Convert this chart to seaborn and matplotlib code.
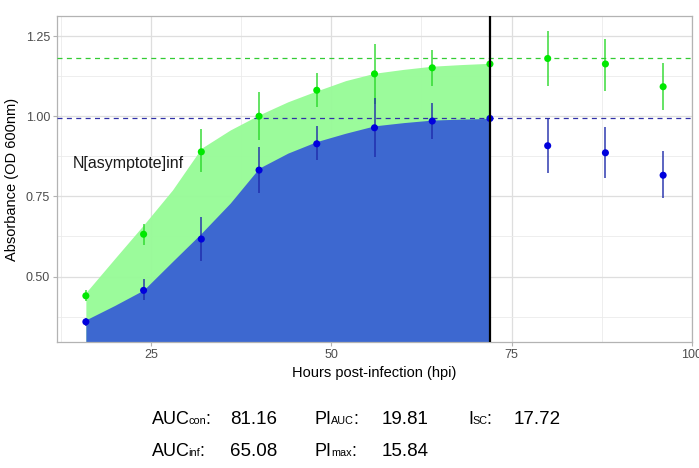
import numpy as np
import pandas as pd
import matplotlib
matplotlib.use("Agg")
import matplotlib.pyplot as plt
from matplotlib.ticker import FixedLocator
import seaborn as sns

# ---------------- data ----------------
hours = [16, 24, 32, 40, 48, 56, 64, 72, 80, 88, 96]

con_mean = [0.440, 0.632, 0.889, 1.000, 1.081, 1.132, 1.151, 1.163, 1.180, 1.163, 1.092]
con_lo   = [0.425, 0.599, 0.825, 0.926, 1.030, 1.039, 1.094, 1.163, 1.095, 1.080, 1.019]
con_hi   = [0.458, 0.664, 0.959, 1.075, 1.136, 1.225, 1.206, 1.163, 1.267, 1.241, 1.167]

inf_mean = [0.359, 0.457, 0.617, 0.832, 0.914, 0.964, 0.985, 0.993, 0.908, 0.886, 0.816]
inf_lo   = [0.345, 0.427, 0.549, 0.762, 0.864, 0.874, 0.928, 0.993, 0.823, 0.807, 0.746]
inf_hi   = [0.372, 0.492, 0.686, 0.905, 0.970, 1.058, 1.040, 0.993, 0.993, 0.966, 0.892]

area_hours = [16, 20, 24, 28, 32, 36, 40, 44, 48, 52, 56, 60, 64, 68, 72]
con_curve = [0.450, 0.556, 0.661, 0.770, 0.900, 0.957, 1.004, 1.045, 1.079, 1.111, 1.134, 1.146, 1.156, 1.161, 1.165]
inf_curve = [0.365, 0.410, 0.458, 0.547, 0.635, 0.729, 0.838, 0.885, 0.921, 0.947, 0.970, 0.980, 0.988, 0.991, 0.993]

asym_con = 1.180
asym_inf = 0.993
cutoff = 72

x_ticks = [25, 50, 75, 100]
y_ticks = [0.50, 0.75, 1.00, 1.25]

stats_row1 = [("AUC", "con", "81.16"), ("PI", "AUC", "19.81"), ("I", "SC", "17.72")]
stats_row2 = [("AUC", "inf", "65.08"), ("PI", "max", "15.84")]

# ---------------- style ----------------
sns.set_theme(style="white")
plt.rcParams['font.family'] = ['Liberation Sans', 'DejaVu Sans']

df = pd.DataFrame({
    "hours": hours * 2,
    "od": con_mean + inf_mean,
    "lo": con_lo + inf_lo,
    "hi": con_hi + inf_hi,
    "group": ["con"] * len(hours) + ["inf"] * len(hours),
})

fig = plt.figure(figsize=(6.99, 4.68), dpi=100)
W, H = 699, 468
ax = fig.add_axes([57 / W, 1 - 342 / H, (692 - 57) / W, (342 - 16) / H])

ax.set_xlim(12, 100)
ax.set_ylim(0.296, 1.3125)

# grid
ax.xaxis.set_major_locator(FixedLocator(x_ticks))
ax.yaxis.set_major_locator(FixedLocator(y_ticks))
ax.xaxis.set_minor_locator(FixedLocator([12.5, 37.5, 62.5, 87.5]))
ax.yaxis.set_minor_locator(FixedLocator([0.375, 0.625, 0.875, 1.125]))
ax.grid(which="major", color="#DEDEDE", lw=0.9)
ax.grid(which="minor", color="#EBEBEB", lw=0.6)
ax.set_axisbelow(True)
for s in ax.spines.values():
    s.set_color("#B3B3B3")
    s.set_linewidth(0.9)
ax.tick_params(axis="both", which="major", length=3, color="#B3B3B3",
               labelcolor="#4D4D4D", labelsize=9, width=0.8, pad=2,
               bottom=True, left=True)
ax.tick_params(which="minor", length=0)
ax.set_xticklabels(["25", "50", "75", "100"])
ax.set_yticklabels(["0.50", "0.75", "1.00", "1.25"])

# areas
ax.fill_between(area_hours, 0, con_curve, color="#98FB98", alpha=0.97, lw=0, zorder=1)
ax.fill_between(area_hours, 0, inf_curve, color="#3A63D2", alpha=0.97, lw=0, zorder=2)

# asymptote lines
ax.axhline(asym_con, color="#33CC33", lw=0.9, ls=(0, (4, 3.5)), zorder=3)
ax.axhline(asym_inf, color="#3030A8", lw=0.9, ls=(0, (4, 3.5)), zorder=3)

# error bars
for g, col in [("con", "#2BD82B"), ("inf", "#1E2AAA")]:
    d = df[df.group == g]
    ax.vlines(d.hours, d.lo, d.hi, color=col, lw=1.2, alpha=0.85, zorder=4)

# points
sns.scatterplot(data=df, x="hours", y="od", hue="group",
                palette={"con": "#00E800", "inf": "#0000DD"},
                s=26, edgecolor="none", legend=False, ax=ax, zorder=5)

ax.axvline(cutoff, color="black", lw=1.6, zorder=6)

ax.text(21.9, 0.854, "N[asymptote]inf", ha="center", va="center",
        fontsize=11.5, color="#1A1A1A")

ax.set_xlabel("Hours post-infection (hpi)", fontsize=10.5, color="black", labelpad=4)
ax.set_ylabel("Absorbance (OD 600nm)", fontsize=10.5, color="black", labelpad=5)

# stats text below the plot
renderer = fig.canvas.get_renderer()
label_family = ['Liberation Sans Narrow', 'Liberation Sans', 'DejaVu Sans']

def ftxt(px, py, s, size, family=None):
    kw = {}
    if family is not None:
        kw["family"] = family
    t = fig.text(px / W, 1 - py / H, s, fontsize=size, va="baseline", ha="left",
                 color="black", **kw)
    bb = t.get_window_extent(renderer=renderer)
    return bb.x1

row_y = [424.0, 456.0]
main_x = [151.7, 315.0, 468.3]
val_x = [230.0, 382.0, 514.0]
for r, row in enumerate([stats_row1, stats_row2]):
    for i, (main, sub, val) in enumerate(row):
        x_end = ftxt(main_x[i], row_y[r], main, 13.0, label_family)
        x_end = ftxt(x_end - 1.0, row_y[r], sub, 7.8, label_family)
        ftxt(x_end - 0.5, row_y[r], ":", 13.0, label_family)
        ftxt(val_x[i], row_y[r], val, 13.5)

fig.savefig("out.png", dpi=100)
